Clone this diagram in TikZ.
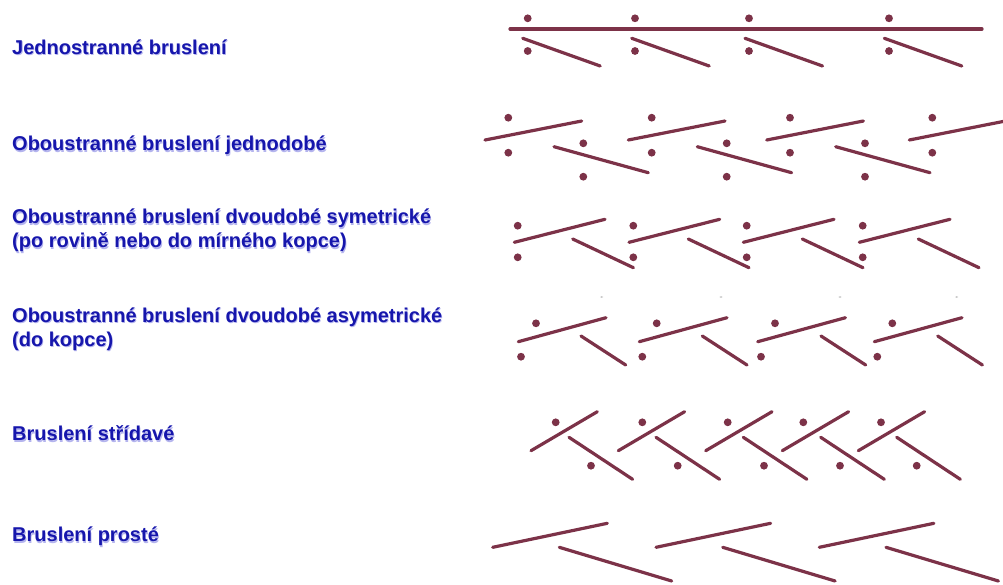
\documentclass[tikz,border=0pt]{standalone}
\usepackage{fontspec}
\setmainfont{Liberation Sans}
\definecolor{maroon}{RGB}{124,50,72}
\definecolor{lblue}{RGB}{22,22,172}
\definecolor{glow}{RGB}{180,180,238}
\begin{document}
\begin{tikzpicture}[x=1pt,y=-1pt,
  skate/.style={line width=3.2pt,draw=maroon,line cap=round},
  pole/.style={fill=maroon},
  lbl/.style={anchor=base west,inner sep=0pt,align=left,text=lblue,
    font=\fontsize{20}{24}\selectfont\bfseries},
  lblshadow/.style={lbl,text=glow}]
\useasboundingbox (0,0) rectangle (1003,584);
% ---------- labels ----------
\foreach \nm/\y/\t in {
  l1/54.3/{Jednostranné bruslení},
  l2/150.7/{Oboustranné bruslení jednodobé},
  l3/247.7/{Oboustranné bruslení dvoudobé symetrické\\(po rovině nebo do mírného kopce)},
  l4/346/{Oboustranné bruslení dvoudobé asymetrické\\(do kopce)},
  l5/440.7/{Bruslení střídavé},
  l6/541.7/{Bruslení prosté}}{
  \node[lblshadow] (\nm s) at (12.8,\y+1.4) {\t};
  \node[lbl] (\nm) at (12,\y) {\t};
}
% ---------- row 1 ----------
\draw[skate] (510,29) -- (982,29);
\foreach \x in {527.7,635,749,889}{
  \fill[pole] (\x,18.3) circle (3.9);
  \fill[pole] (\x,51) circle (3.9);
}
\foreach \x in {522.7,631.7,745,884.3}{
  \draw[skate] (\x,38.3) -- ++(77.5,27.7);
}
% ---------- row 2 ----------
\foreach \x in {485,628.3,766.7}{
  \draw[skate] (\x,140) -- ++(96.7,-19);
}
\draw[skate] (909.3,140) -- (1003,121.5);
\foreach \x in {554,697.3,835.7}{
  \draw[skate] (\x,146.7) -- ++(94.3,26);
}
\foreach \x in {508.3,651.7,790,932.3}{
  \fill[pole] (\x,117.7) circle (3.9);
  \fill[pole] (\x,152.7) circle (3.9);
}
\foreach \x in {583.3,726.7,865}{
  \fill[pole] (\x,143.3) circle (3.9);
  \fill[pole] (\x,176.7) circle (3.9);
}
% ---------- row 3 ----------
\foreach \x in {514.3,629,743.3,859.3}{
  \draw[skate] (\x,242.3) -- ++(90.7,-23);
}
\foreach \x in {572.7,688.3,802.3,918.3}{
  \draw[skate] (\x,239) -- ++(60.7,28.7);
}
\foreach \x in {517.7,633.3,746.7,862.7}{
  \fill[pole] (\x,225.7) circle (3.9);
  \fill[pole] (\x,257.3) circle (3.9);
}
\foreach \x in {601.7,721,840,956.7}{
  \fill[gray!45] (\x,297) ellipse (1.6 and 0.9);
}
% ---------- row 4 ----------
\foreach \x in {518.3,639.3,757.7,874.3}{
  \draw[skate] (\x,341.7) -- ++(87.7,-24);
}
\foreach \x in {581,702.3,821,937.7}{
  \draw[skate] (\x,336) -- ++(44.7,29);
}
\foreach \xa/\xb in {536/521,656.7/642.3,775/761,892.3/877.3}{
  \fill[pole] (\xa,323.3) circle (3.9);
  \fill[pole] (\xb,356.7) circle (3.9);
}
% ---------- row 5 ----------
\foreach \x in {531,618.3,705.7,782.3,858.3}{
  \draw[skate] (\x,450.7) -- ++(66.3,-39);
}
\foreach \x in {569,656,743.3,820.7,896.7}{
  \draw[skate] (\x,437.3) -- ++(63.6,42);
}
\foreach \xa/\xb in {555.7/591,642.3/677.7,727.7/764,803.3/840,881/916.7}{
  \fill[pole] (\xa,422.3) circle (3.9);
  \fill[pole] (\xb,465.7) circle (3.9);
}
% ---------- row 6 ----------
\foreach \x in {492.7,656,819.3}{
  \draw[skate] (\x,547.3) -- ++(114.6,-24);
}
\foreach \x in {559.3,722.7,886}{
  \draw[skate] (\x,547.3) -- ++(112.4,33.7);
}
\end{tikzpicture}
\end{document}
